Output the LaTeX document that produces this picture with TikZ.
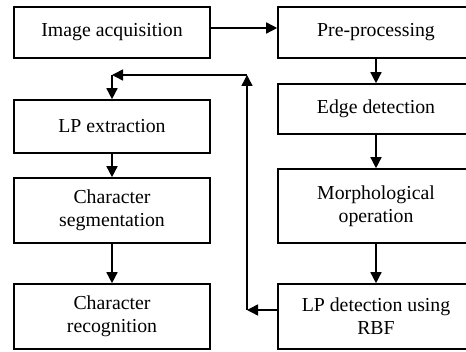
\documentclass[tikz,border=0pt]{standalone}
\usepackage{fontspec}
\setmainfont{Liberation Serif}
\usetikzlibrary{arrows.meta}
\begin{document}
\begin{tikzpicture}[
          x=1pt, y=-1pt,
          block/.style={draw=black, line width=1.6pt, minimum width=196pt, inner sep=0pt, align=center, font=\fontsize{19.8}{23}\selectfont},
          link/.style={line width=1.5pt, -{Triangle[length=11pt, width=11pt]}}
        ]
          \useasboundingbox[fill=white] (0, 0) rectangle (466, 352);

          \node (img) at (112, 32.5)   [block, minimum height=51pt] {Image acquisition};
          \node (pre) at (376, 32.5)   [block, minimum height=51pt] {Pre-processing};
          \node (edg) at (376, 109)    [block, minimum height=50pt] {Edge detection};
          \node (mor) at (376, 206)    [block, minimum height=74pt] {Morphological\\operation};
          \node (det) at (376, 316.5)  [block, minimum height=65pt] {LP detection using\\RBF};

          \node (ext) at (112, 126.5)  [block, minimum height=53pt] {LP extraction};
          \node (seg) at (112, 210.5)  [block, minimum height=65pt] {Character\\segmentation};
          \node (rec) at (112, 316.5)  [block, minimum height=65pt] {Character\\recognition};

          \coordinate (fb1) at (247, 310);
          \coordinate (fb2) at (247, 75);
          \coordinate (fb3) at (112, 75);

          \draw [link] ([yshift=4.5pt]img.east) -- ([yshift=4.5pt]pre.west);
          \draw [link] (pre) -- (edg);
          \draw [link] (edg) -- (mor);
          \draw [link] (mor) -- (det);
          \draw [link] (det.west |- fb1) -- (fb1);
          \draw [link] (fb1) -- (fb2);
          \draw [link] (fb2) -- (fb3);
          \draw [link] (fb3) -- (ext);
          \draw [link] (ext) -- (seg);
          \draw [link] (seg) -- (rec);
        \end{tikzpicture}
\end{document}
